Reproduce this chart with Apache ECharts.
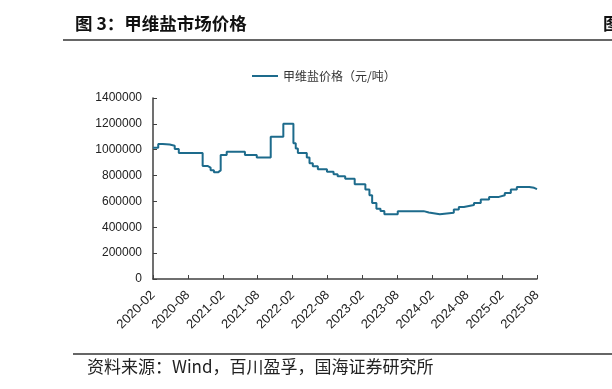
<!DOCTYPE html>
<html><head><meta charset="utf-8">
<script src="https://cdn.jsdelivr.net/npm/echarts@6/dist/echarts.min.js"></script>
<style>html,body{margin:0;padding:0;background:#fff}#c{width:612px;height:389px}</style>
</head><body><div id="c"></div>
<script>
const seriesName = '甲维盐价格（元/吨）';
const tickLabels = ['2020-02','2020-08','2021-02','2021-08','2022-02','2022-08','2023-02','2023-08','2024-02','2024-08','2025-02','2025-08'];
const changeDates = ['2020-02-01','2020-02-28','2020-03-21','2020-04-27','2020-05-23','2020-06-14','2020-10-17','2020-11-12','2020-11-28','2020-12-15','2021-01-06','2021-01-20','2021-02-21','2021-05-25','2021-07-26','2021-10-08','2021-12-13','2022-02-05','2022-02-17','2022-02-28','2022-04-14','2022-04-28','2022-05-15','2022-06-11','2022-07-28','2022-09-02','2022-09-23','2022-11-02','2022-12-21','2023-02-16','2023-03-07','2023-03-21','2023-04-13','2023-05-04','2023-05-24','2023-08-03','2023-12-17','2024-01-13','2024-03-10','2024-05-22','2024-06-18','2024-07-14','2024-09-06','2024-10-11','2024-11-24','2025-01-15','2025-02-15','2025-03-16','2025-04-17','2025-06-21','2025-07-16','2025-08-01'];
const prices = [1015000,1045000,1040000,1030000,1005000,975000,875000,862000,842000,825000,840000,960000,985000,960000,940000,1100000,1200000,1050000,1010000,975000,940000,895000,873000,848000,829000,811000,795000,775000,733000,692000,648000,588000,544000,526000,500000,525000,515000,500000,513000,537000,557000,572000,588000,614000,635000,648000,666000,692000,712000,705000,695000,692000];

function monthIndex(s){const [y,m,d]=s.split('-').map(Number);return (y-2020)*12+(m-2)+(d-1)/30;}
const data = changeDates.map((d,i)=>[monthIndex(d),prices[i]]);

const chart = echarts.init(document.getElementById('c'));
const font = 'Liberation Sans, Arial, sans-serif';
chart.setOption({
  animation:false,
  grid:{left:153,right:75,top:98,bottom:110,containLabel:false},
  legend:{top:65,left:247,itemWidth:26,itemHeight:2,itemGap:6,icon:'rect',
    textStyle:{fontSize:12,color:'#333',fontFamily:'Noto Sans CJK SC'},data:[seriesName]},
  xAxis:{type:'value',min:0,max:66,interval:6,
    axisLine:{lineStyle:{color:'#404040',width:1.5}},
    axisTick:{inside:true,length:4,lineStyle:{color:'#404040'}},
    splitLine:{show:false},
    axisLabel:{rotate:45,fontSize:13,color:'#222',fontFamily:font,margin:14,
      formatter:v=>tickLabels[Math.round(v/6)]||''}},
  yAxis:{type:'value',min:0,max:1400000,interval:200000,
    axisLine:{show:true,lineStyle:{color:'#404040',width:1.5}},
    axisTick:{show:true,inside:true,length:4,lineStyle:{color:'#404040'}},
    splitLine:{show:false},
    axisLabel:{fontSize:12,color:'#222',fontFamily:font,margin:11,formatter:v=>String(v)}},
  series:[{name:seriesName,type:'line',step:'end',data:data,showSymbol:false,
    lineStyle:{color:'#1d6b8c',width:2},itemStyle:{color:'#1d6b8c'}}],
  graphic:[
    {type:'text',left:75,top:15,style:{text:'图 3：甲维盐市场价格',font:'bold 17.5px "Noto Sans CJK SC"',fill:'#111'}},
    {type:'text',left:603,top:15,style:{text:'图',font:'bold 17.5px "Noto Sans CJK SC"',fill:'#111'}},
    {type:'line',shape:{x1:63,y1:40,x2:612,y2:40},style:{stroke:'#333',lineWidth:1.5}},
    {type:'line',shape:{x1:73,y1:354,x2:612,y2:354},style:{stroke:'#333',lineWidth:1.5}},
    {type:'text',left:87,top:358,style:{text:'资料来源：Wind，百川盈孚，国海证券研究所',font:'17px "Noto Sans CJK SC"',fill:'#222'}}
  ]
});
</script></body></html>
